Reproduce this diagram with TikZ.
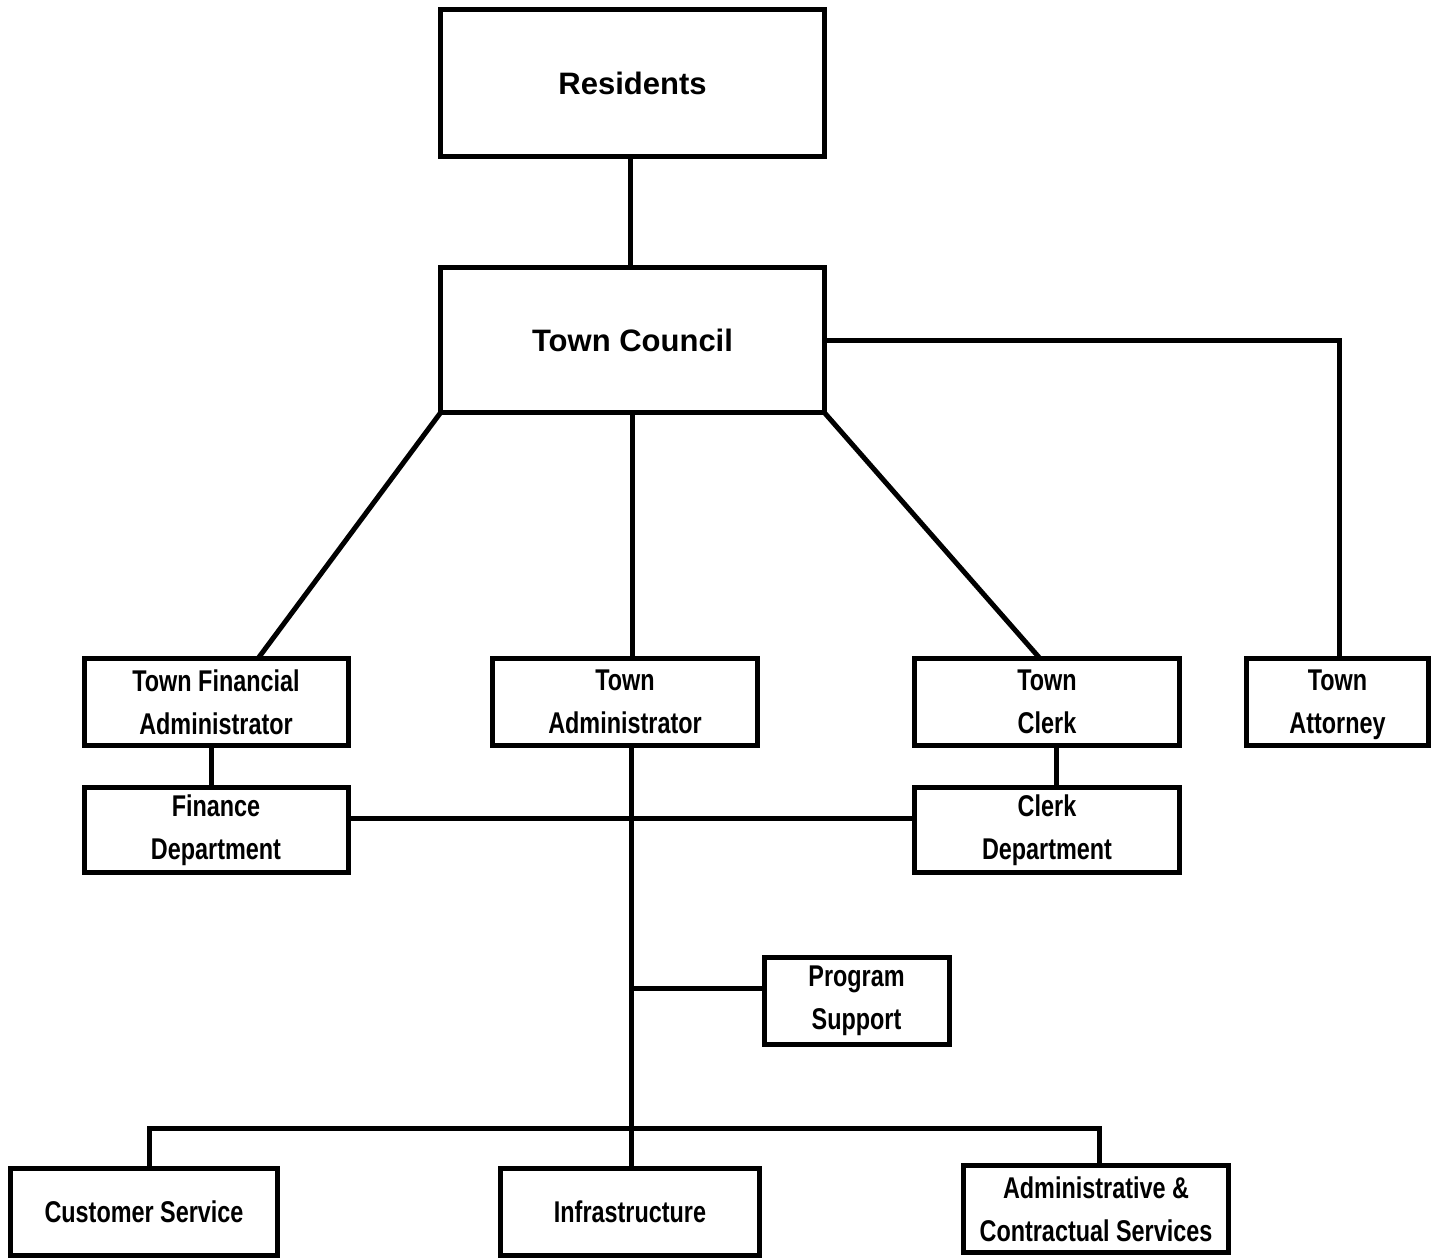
\documentclass[tikz,border=0pt]{standalone}
\usepackage{fontspec}
\setmainfont{Liberation Sans}
\newfontfamily\narrowfont{Liberation Sans}[FakeStretch=0.78]
\usetikzlibrary{calc}
\begin{document}
\begin{tikzpicture}[x=1pt,y=-1pt,line width=5pt,
  box/.style={draw,line width=5pt,inner sep=0pt,outer sep=0pt,align=center,
    font=\narrowfont\bfseries\fontsize{30}{43}\selectfont},
  bigbox/.style={draw,line width=5pt,inner sep=0pt,outer sep=0pt,align=center,
    font=\bfseries\fontsize{31}{37}\selectfont}]
\useasboundingbox (0,0) rectangle (1442,1260);
\node[bigbox,minimum width=384,minimum height=147] (res) at (632.5,83) {Residents};
\node[bigbox,minimum width=384,minimum height=145.5] (tc) at (632.5,340) {Town Council};
\node[box,minimum width=264,minimum height=87] (tfa) at (216,702) {Town Financial\\Administrator};
\node[box,minimum width=264,minimum height=85] (fin) at (216,830) {Finance\\Department};
\node[box,minimum width=265,minimum height=87] (ta) at (625,702) {Town\\Administrator};
\node[box,minimum width=265,minimum height=87] (tclk) at (1047,702) {Town\\Clerk};
\node[box,minimum width=265,minimum height=85] (cd) at (1047,830) {Clerk\\Department};
\node[box,minimum width=182,minimum height=87] (att) at (1337.5,702) {Town\\\smash{Attorney}};
\node[box,minimum width=185,minimum height=86.5] (ps) at (856.5,1001) {Program\\Support};
\node[box,minimum width=267,minimum height=87] (cs) at (144,1212) {Customer Service};
\node[box,minimum width=259,minimum height=87] (inf) at (630,1212) {Infrastructure};
\node[box,minimum width=265,minimum height=87] (acs) at (1096,1209) {Administrative \&\\Contractual Services};
% connectors
\draw ($(res.south)+(-2,0)$) -- ($(tc.north)+(-2,0)$);
\draw (tc.east) -| ($(att.north)+(1.5,0)$);
\draw (tc.south west) -- ($(tfa.north)+(42,0)$);
\draw (tc.south) -- (tc.south |- ta.north);
\draw (tc.south east) -- ($(tclk.north)+(-7,0)$);
\draw ($(tfa.south)+(-5,0)$) -- ($(fin.north)+(-5,0)$);
\draw ($(tclk.south)+(9.5,0)$) -- ($(cd.north)+(9.5,0)$);
\coordinate (hy) at (0,818);
\draw (fin.east |- hy) -- (cd.west |- hy);
\coordinate (tx) at (631.5,0);
\draw (ta.south -| tx) -- (inf.north -| tx);
\coordinate (psy) at (0,988);
\draw (tx |- psy) -- (ps.west |- psy);
\coordinate (b1) at (149,1128);
\coordinate (b2) at (1099,1128);
\draw (cs.north -| b1) -- (b1) -- (b2) -- (acs.north -| b2);
\end{tikzpicture}
\end{document}
